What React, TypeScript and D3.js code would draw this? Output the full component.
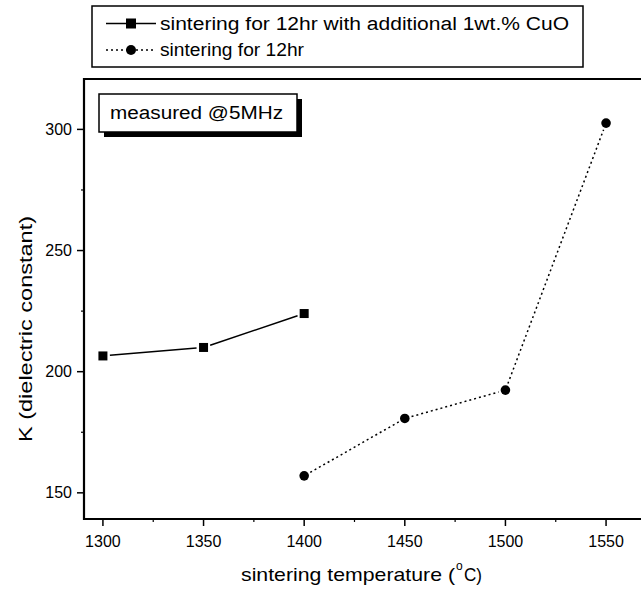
import React from "react";
import * as d3 from "d3";

const temps1: number[] = [1300, 1350, 1400];
const kCuO: number[] = [206.5, 210, 224];
const temps2: number[] = [1400, 1450, 1500, 1550];
const kPlain: number[] = [157, 180.7, 192.4, 302.6];
const xTicks: number[] = [1300, 1350, 1400, 1450, 1500, 1550];
const yTicks: number[] = [150, 200, 250, 300];
const xMinor: number[] = [1325, 1375, 1425, 1475, 1525];
const yMinor: number[] = [175, 225, 275];
const legendLabels: string[] = [
  "sintering for 12hr with additional 1wt.% CuO",
  "sintering for 12hr",
];
const noteText = "measured @5MHz";
const xTitle = "sintering temperature (";
const yTitle = "K (dielectric constant)";

const W = 641;
const H = 591;
const left = 84;
const right = 660;
const top = 79;
const bottom = 519;
const FONT = "'Liberation Sans', Arial, Helvetica, sans-serif";

export default function App() {
  const x = d3.scaleLinear().domain([1290.6, 1576.8]).range([left, right]);
  const y = d3.scaleLinear().domain([139.2, 320.8]).range([bottom, top]);

  const pts1 = temps1.map((t, i) => [x(t), y(kCuO[i])] as [number, number]);
  const pts2 = temps2.map((t, i) => [x(t), y(kPlain[i])] as [number, number]);

  const gapSegs = (pts: [number, number][], gap: number) => {
    const segs: [number, number, number, number][] = [];
    for (let i = 0; i < pts.length - 1; i++) {
      const [x1, y1] = pts[i];
      const [x2, y2] = pts[i + 1];
      const dx = x2 - x1;
      const dy = y2 - y1;
      const len = Math.hypot(dx, dy);
      const ux = dx / len;
      const uy = dy / len;
      segs.push([x1 + ux * gap, y1 + uy * gap, x2 - ux * gap, y2 - uy * gap]);
    }
    return segs;
  };

  const line = d3.line();

  return (
    <svg
      width={W}
      height={H}
      viewBox={`0 0 ${W} ${H}`}
      style={{ position: "absolute", left: 0, top: 0, background: "#fff" }}
      fontFamily={FONT}
    >
      <rect x={0} y={0} width={W} height={H} fill="#fff" />

      {/* legend */}
      <rect x={92} y={6} width={491} height={61} fill="#fff" stroke="#000" strokeWidth={1.5} />
      <path d={line([[106, 23.5], [156, 23.5]]) || ""} stroke="#000" strokeWidth={1.6} />
      <rect x={126} y={18.5} width={10} height={10} fill="#000" />
      <text
        x={160}
        y={23.5}
        dy="0.35em"
        fontSize={18}
        fill="#000"
        textLength={409}
        lengthAdjust="spacingAndGlyphs"
      >
        {legendLabels[0]}
      </text>
      <path
        d={line([[106, 50], [156, 50]]) || ""}
        stroke="#000"
        strokeWidth={1.6}
        strokeDasharray="2,3"
      />
      <circle cx={131} cy={50} r={5} fill="#000" />
      <text
        x={160}
        y={50}
        dy="0.35em"
        fontSize={18}
        fill="#000"
        textLength={144}
        lengthAdjust="spacingAndGlyphs"
      >
        {legendLabels[1]}
      </text>

      {/* frame */}
      <path
        d={`M${W + 10},${top} H${left} V${bottom} H${W + 10}`}
        fill="none"
        stroke="#000"
        strokeWidth={2.2}
      />

      {/* x ticks */}
      {xTicks.map((t) => (
        <g key={t}>
          <line x1={x(t)} x2={x(t)} y1={bottom} y2={bottom + 7} stroke="#000" strokeWidth={1.5} />
          <text x={x(t)} y={541} dy="0.35em" textAnchor="middle" fontSize={16} fill="#000">
            {t}
          </text>
        </g>
      ))}
      {xMinor.map((t) => (
        <line key={t} x1={x(t)} x2={x(t)} y1={bottom} y2={bottom + 3} stroke="#000" strokeWidth={1.2} />
      ))}

      {/* y ticks */}
      {yTicks.map((t) => (
        <g key={t}>
          <line x1={left - 7} x2={left} y1={y(t)} y2={y(t)} stroke="#000" strokeWidth={1.5} />
          <text x={72} y={y(t)} dy="0.35em" textAnchor="end" fontSize={16} fill="#000">
            {t}
          </text>
        </g>
      ))}
      {yMinor.map((t) => (
        <line key={t} x1={left - 3} x2={left} y1={y(t)} y2={y(t)} stroke="#000" strokeWidth={1.2} />
      ))}

      {/* axis titles */}
      <text
        x={241}
        y={574}
        dy="0.35em"
        fontSize={19}
        fill="#000"
        textLength={214}
        lengthAdjust="spacingAndGlyphs"
      >
        {xTitle}
      </text>
      <text x={456} y={566} dy="0.35em" fontSize={12} fill="#000">
        o
      </text>
      <text
        x={464}
        y={574}
        dy="0.35em"
        fontSize={19}
        fill="#000"
        textLength={18}
        lengthAdjust="spacingAndGlyphs"
      >
        C)
      </text>
      <text
        transform={`translate(25,329) rotate(-90)`}
        x={-113}
        dy="0.35em"
        fontSize={19}
        fill="#000"
        textLength={226}
        lengthAdjust="spacingAndGlyphs"
      >
        {yTitle}
      </text>

      {/* note box with shadow */}
      <rect x={104} y={99} width={198} height={38} fill="#000" />
      <rect x={99} y={94} width={198} height={38} fill="#fff" stroke="#000" strokeWidth={1.5} />
      <text
        x={110}
        y={113}
        dy="0.35em"
        fontSize={18}
        fill="#000"
        textLength={173}
        lengthAdjust="spacingAndGlyphs"
      >
        {noteText}
      </text>

      {/* series 1: solid with squares */}
      {gapSegs(pts1, 7).map((s, i) => (
        <line key={i} x1={s[0]} y1={s[1]} x2={s[2]} y2={s[3]} stroke="#000" strokeWidth={1.5} />
      ))}
      {pts1.map(([px, py], i) => (
        <rect key={i} x={px - 4.5} y={py - 4.5} width={9} height={9} fill="#000" />
      ))}

      {/* series 2: dotted with circles */}
      {gapSegs(pts2, 7).map((s, i) => (
        <line
          key={i}
          x1={s[0]}
          y1={s[1]}
          x2={s[2]}
          y2={s[3]}
          stroke="#000"
          strokeWidth={1.5}
          strokeDasharray="2,3"
        />
      ))}
      {pts2.map(([px, py], i) => (
        <circle key={i} cx={px} cy={py} r={4.8} fill="#000" />
      ))}
    </svg>
  );
}
